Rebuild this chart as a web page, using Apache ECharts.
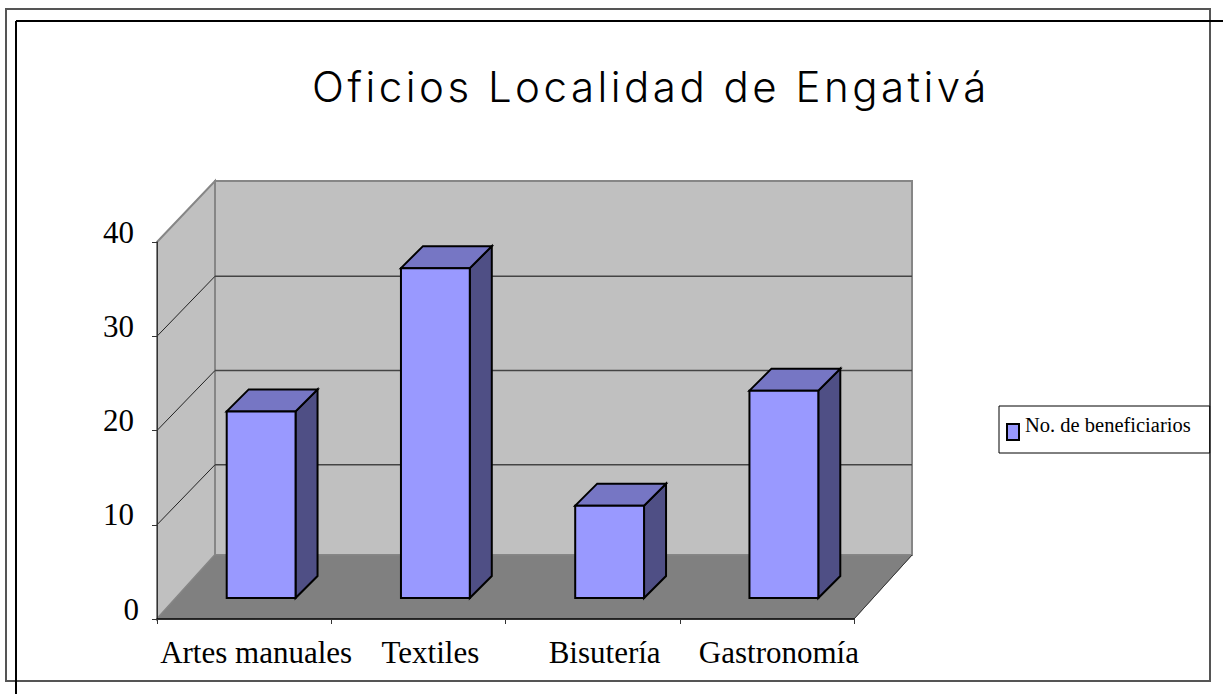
<!DOCTYPE html>
<html>
<head>
<meta charset="utf-8">
<title>Oficios Localidad de Engativá</title>
<script src="https://cdn.jsdelivr.net/npm/echarts@6/dist/echarts.min.js"></script>
<style>
  html, body { margin: 0; padding: 0; background: #fff; }
  #main { width: 1223px; height: 694px; }
  /* el titulo original va muy espaciado */
  #main text[style*="42px"] { letter-spacing: 3.5px; }
</style>
</head>
<body>
<div id="main"></div>
<script>
var categories = ["Artes manuales", "Textiles", "Bisutería", "Gastronomía"];
var beneficiarios = [19.8, 35, 9.8, 22];
var yTicks = [10, 20, 30];
var yMax = 40;

// desplazamientos de la caja 3D
var wallDx = 58, wallDyTop = -61, wallDyGrid = -60, wallDyFloor = -64;
var barDx = 17, barDy = -21, barDepthX = 22, barDepthY = -22;

var myChart = echarts.init(document.getElementById("main"), null, { renderer: "svg" });

function poly(points, fill, stroke, lineWidth) {
  return {
    type: "polygon",
    shape: { points: points },
    style: { fill: fill, stroke: stroke, lineWidth: lineWidth || 0, lineJoin: "miter" }
  };
}

function renderWalls(params, api) {
  var cs = params.coordSys;
  var x0 = cs.x, x1 = cs.x + cs.width;
  var yTop = api.coord([0, yMax])[1];
  var yBot = api.coord([0, 0])[1];
  var backL = x0 + wallDx, backR = x1 + wallDx;
  var backTop = yTop + wallDyTop, backBot = yBot + wallDyFloor;
  var children = [
    poly([[x0, yTop], [backL, backTop], [backL, backBot], [x0, yBot]], "#c0c0c0", "#868686", 2),
    poly([[backL, backTop], [backR, backTop], [backR, backBot], [backL, backBot]], "#c0c0c0", "#868686", 2),
    poly([[x0, yBot], [backL, backBot], [backR, backBot], [x1, yBot]], "#808080", "#868686", 1),
    { type: "line", shape: { x1: x1, y1: yBot, x2: backR, y2: backBot }, style: { stroke: "#333", lineWidth: 1 } }
  ];
  yTicks.forEach(function (v) {
    var y = api.coord([0, v])[1];
    children.push({ type: "line", shape: { x1: x0, y1: y, x2: backL, y2: y + wallDyGrid }, style: { stroke: "#222", lineWidth: 1 } });
    children.push({ type: "line", shape: { x1: backL, y1: y + wallDyGrid, x2: backR, y2: y + wallDyGrid }, style: { stroke: "#444", lineWidth: 1.5 } });
  });
  return { type: "group", children: children };
}

function renderBar(params, api) {
  var base = api.coord([api.value(0), 0]);
  var top = api.coord([api.value(0), api.value(1)]);
  var w = api.size([1, 0])[0] * 0.395;
  var l = base[0] + barDx - w / 2, r = l + w;
  var yb = base[1] + barDy, yt = top[1] + barDy;
  var dx = barDepthX, dy = barDepthY;
  return {
    type: "group",
    children: [
      poly([[r, yt], [r + dx, yt + dy], [r + dx, yb + dy], [r, yb]], "#4f4f85", "#000", 2),
      poly([[l, yt], [l + dx, yt + dy], [r + dx, yt + dy], [r, yt]], "#7676c4", "#000", 2),
      poly([[l, yt], [r, yt], [r, yb], [l, yb]], "#9999ff", "#000", 2)
    ]
  };
}

var option = {
  animation: false,
  title: {
    text: "Oficios Localidad de Engativá",
    left: 646,
    top: 60,
    textAlign: "center",
    textStyle: { fontFamily: "Inter", fontSize: 42, fontWeight: 300, color: "#000" }
  },
  legend: {
    left: 999,
    top: 406,
    padding: [8, 19, 12, 7],
    backgroundColor: "#fff",
    borderColor: "#000",
    borderWidth: 1,
    itemWidth: 12,
    itemHeight: 16,
    itemGap: 0,
    icon: "rect",
    data: ["No. de beneficiarios"],
    formatter: "{a|{name}}",
    textStyle: {
      rich: { a: { fontFamily: "Liberation Serif", fontSize: 20.5, color: "#000", padding: [0, 0, 15, 1] } }
    }
  },
  graphic: [
    { type: "rect", z: -1, shape: { x: 6, y: 9, width: 1204, height: 672 }, style: { fill: "none", stroke: "#555", lineWidth: 2 } },
    { type: "line", z: -1, shape: { x1: 16, y1: 21, x2: 1223, y2: 21 }, style: { stroke: "#000", lineWidth: 2 } },
    { type: "line", z: -1, shape: { x1: 16, y1: 21, x2: 16, y2: 694 }, style: { stroke: "#000", lineWidth: 2 } }
  ],
  grid: { left: 157, top: 242, width: 697, height: 377 },
  xAxis: {
    type: "category",
    data: categories,
    z: 5,
    axisLine: { lineStyle: { color: "#000", width: 1.5 } },
    axisTick: { show: true, length: 5, lineStyle: { color: "#333" } },
    axisLabel: {
      color: "#000",
      fontFamily: "Liberation Serif",
      fontSize: 31,
      margin: 18,
      interval: 0,
      padding: [0, 0, 0, 24]
    }
  },
  yAxis: {
    type: "value",
    min: 0,
    max: yMax,
    interval: 10,
    z: 5,
    splitLine: { show: false },
    axisLine: { show: true, lineStyle: { color: "#333", width: 1 } },
    axisTick: { show: true, length: 5, lineStyle: { color: "#333" } },
    axisLabel: {
      color: "#000",
      fontFamily: "Liberation Serif",
      fontSize: 31,
      margin: 23,
      padding: [0, 0, 20, 0],
      formatter: function (v) { return v === 0 ? "{z|0}" : String(v); },
      rich: { z: { fontFamily: "Liberation Serif", fontSize: 31, color: "#000", padding: [0, -5, 0, 0] } }
    }
  },
  series: [
    {
      type: "custom",
      name: "paredes",
      z: 1,
      silent: true,
      clip: false,
      renderItem: renderWalls,
      data: [[0, 0]]
    },
    {
      type: "custom",
      name: "No. de beneficiarios",
      z: 6,
      clip: false,
      itemStyle: { color: "#9999ff", borderColor: "#000", borderWidth: 2 },
      encode: { x: 0, y: 1 },
      renderItem: renderBar,
      data: beneficiarios.map(function (v, i) { return [i, v]; })
    }
  ]
};

myChart.setOption(option);
</script>
</body>
</html>
